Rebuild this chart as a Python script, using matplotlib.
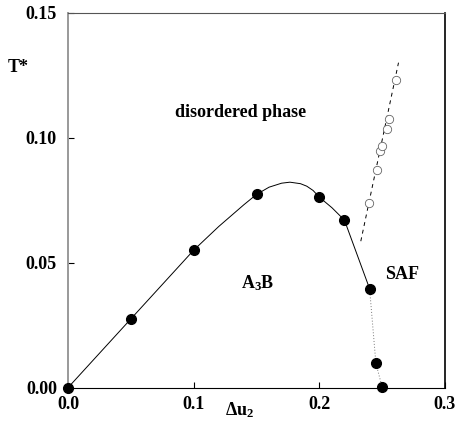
"""Phase diagram T* vs delta u2: disordered / A3B / SAF."""
import matplotlib
matplotlib.use("Agg")
import matplotlib.pyplot as plt

# simulated transition points (filled)
sim_x = [0.0, 0.05, 0.10, 0.15, 0.20, 0.22, 0.24, 0.245, 0.25]
sim_t = [0.0, 0.0275, 0.055, 0.0773, 0.0762, 0.067, 0.0396, 0.0098, 0.0002]

# open circles (disordered / SAF boundary)
open_x = [0.2397, 0.2456, 0.2480, 0.2495, 0.2535, 0.2556, 0.2610]
open_t = [0.0739, 0.0870, 0.0945, 0.0967, 0.1034, 0.1075, 0.1229]

# A3B boundary line
line_x = [0.0, 0.05, 0.10, 0.12, 0.14, 0.15, 0.16, 0.17, 0.1766, 0.185,
          0.19, 0.195, 0.20, 0.21, 0.22, 0.24]
line_t = [0.0, 0.0275, 0.055, 0.0645, 0.0732, 0.0773, 0.0802, 0.0818, 0.0822,
          0.0816, 0.0806, 0.0789, 0.0762, 0.0720, 0.067, 0.0396]

# dotted tail down to T=0
tail_x = [0.24, 0.245, 0.25]
tail_t = [0.0396, 0.0098, 0.0002]

# dashed disordered/SAF line
dash_x = [0.233, 0.263]
dash_t = [0.0586, 0.130]

xticks = [0.0, 0.1, 0.2, 0.3]
yticks = [0.00, 0.05, 0.10, 0.15]

plt.rcParams["font.family"] = ["Liberation Serif", "DejaVu Serif"]
plt.rcParams["font.weight"] = "bold"
plt.rcParams["mathtext.fontset"] = "custom"
plt.rcParams["mathtext.rm"] = "Liberation Serif:bold"
plt.rcParams["mathtext.bf"] = "Liberation Serif:bold"
plt.rcParams["mathtext.it"] = "Liberation Serif:bold"

fig = plt.figure(figsize=(4.58, 4.45), dpi=100)
ax = fig.add_axes([0.1485, 0.1288, 0.8231, 0.8427])

ax.plot(line_x, line_t, color="black", lw=0.7, zorder=2)
ax.plot(tail_x, tail_t, color="#777777", lw=0.7, ls=(0, (1, 2)), zorder=2)
ax.plot(dash_x, dash_t, color="black", lw=0.7, ls=(0, (4, 4)), zorder=2)
ax.plot(open_x, open_t, ls="none", marker="o", ms=6, mfc="white",
        mec="#666666", mew=0.6, zorder=3)
ax.plot(sim_x, sim_t, ls="none", marker="o", ms=7, color="black",
        zorder=4, clip_on=False)

ax.set_xlim(0, 0.3)
ax.set_ylim(0, 0.15)
ax.set_xticks(xticks)
ax.set_yticks(yticks)
ax.set_xticklabels(["0.0", "0.1", "0.2", "0.3"])
ax.set_yticklabels(["0.00", "0.05", "0.10", "0.15"])
ax.tick_params(direction="in", length=4, width=0.8, labelsize=13,
               top=False, right=False)
ax.tick_params(axis="y", pad=8)
ax.tick_params(axis="x", pad=6)
for lab in ax.get_xticklabels() + ax.get_yticklabels():
    lab.set_fontweight("bold")

ax.spines["left"].set_color("#999999")
ax.spines["left"].set_linewidth(1.4)
ax.spines["top"].set_color("#555555")
ax.spines["top"].set_linewidth(0.8)
ax.spines["right"].set_linewidth(1.2)
ax.spines["bottom"].set_linewidth(0.8)

ax.text(0.137, 0.1102, "disordered phase", fontsize=13, fontweight="bold",
        ha="center", va="center")
ax.text(0.151, 0.042, r"A$_3$B", fontsize=13, fontweight="bold",
        ha="center", va="center")
ax.text(0.266, 0.0451, "SAF", fontsize=13, fontweight="bold",
        ha="center", va="center")

fig.text(18 / 458, 1 - 68 / 445, "T*", fontsize=13, fontweight="bold",
         ha="center", va="center")
fig.text(240 / 458, 1 - 410 / 445, "\u0394u$_2$",
         fontsize=13, fontweight="bold", ha="center", va="center")

fig.savefig("out.png", dpi=100)
